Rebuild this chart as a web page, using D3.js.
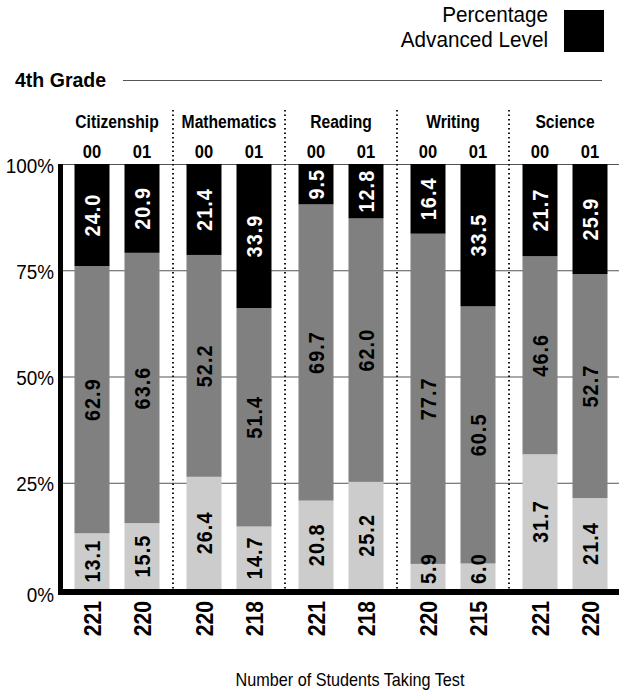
<!DOCTYPE html>
<html><head><meta charset="utf-8">
<script src="https://cdn.jsdelivr.net/npm/d3@7"></script>
<style>
html,body{margin:0;padding:0;background:#fff;}
svg{display:block;}
</style></head>
<body>
<svg id="chart" width="619" height="692"></svg>
<script>
const subjects = ["Citizenship","Mathematics","Reading","Writing","Science"];
const years = ["00","01"];
// order: subject-major, year-minor
const advanced   = [24.0, 20.9, 21.4, 33.9, 9.5, 12.8, 16.4, 33.5, 21.7, 25.9];
const proficient = [62.9, 63.6, 52.2, 51.4, 69.7, 62.0, 77.7, 60.5, 46.6, 52.7];
const below      = [13.1, 15.5, 26.4, 14.7, 20.8, 25.2, 5.9, 6.0, 31.7, 21.4];
const counts     = [221, 220, 220, 218, 221, 218, 220, 215, 221, 220];
const yTicks = [0, 25, 50, 75, 100];
const title = "4th Grade";
const legendLines = ["Percentage","Advanced Level"];
const xTitle = "Number of Students Taking Test";

const FONT = '"Liberation Sans", Arial, Helvetica, sans-serif';
const svg = d3.select("#chart");

const rows = [];
subjects.forEach((s,i)=>years.forEach((y,j)=>{
  const k = i*2+j;
  rows.push({subject:s, year:y, below:below[k], proficient:proficient[k], advanced:advanced[k], n:counts[k]});
}));

const keys = ["below","proficient","advanced"];
const fills = {below:"#cccccc", proficient:"#808080", advanced:"#000000"};
const textFill = {below:"#000", proficient:"#000", advanced:"#fff"};
const stack = d3.stack().keys(keys)(rows);

const x0 = d3.scaleBand().domain(subjects).range([61, 621]).padding(0);
const x1 = d3.scaleBand().domain(years).range([6, 106]).padding(0);
const y = d3.scaleLinear().domain([0,100]).range([589,164]);
const barW = 35;
const cx = d => x0(d.subject) + x1(d.year) + x1.bandwidth()/2;

// gridlines
svg.append("g").selectAll("line").data(yTicks.filter(t=>t>0)).join("line")
  .attr("x1", 63).attr("x2", 619)
  .attr("y1", d=>y(d)+0.5).attr("y2", d=>y(d)+0.5)
  .attr("stroke", "#555").attr("stroke-width", 1);

// separators (dotted)
svg.append("g").selectAll("line").data(subjects.slice(1)).join("line")
  .attr("x1", d=>x0(d)).attr("x2", d=>x0(d))
  .attr("y1", 110).attr("y2", 589)
  .attr("stroke", "#000").attr("stroke-width", 1.8)
  .attr("stroke-dasharray", "1.5,3");

// bars
const layer = svg.append("g").selectAll("g").data(stack).join("g")
  .attr("fill", d=>fills[d.key]);
layer.selectAll("rect").data(d=>d).join("rect")
  .attr("x", d=>cx(d.data)-barW/2)
  .attr("width", barW)
  .attr("y", d=>y(d[1]))
  .attr("height", d=>y(d[0])-y(d[1]));

// value labels (condensed bold, rotated)
const VS = 0.9;
stack.forEach(s=>{
  svg.append("g").selectAll("text").data(s).join("text")
    .attr("text-anchor","middle").attr("dy","0.36em")
    .attr("font-family", FONT).attr("font-weight","bold").attr("font-size",22)
    .attr("letter-spacing", 1.2)
    .attr("fill", textFill[s.key])
    .text(d=>d.data[s.key].toFixed(1))
    .each(function(d){
      const len = this.getComputedTextLength()*VS;
      let c = (y(d[0])+y(d[1]))/2;
      c = Math.min(c, y(0) - len/2 - 5);
      c = Math.max(c, y(100) + len/2 + 2);
      d3.select(this).attr("transform", `translate(${cx(d.data)},${c}) rotate(-90) scale(${VS},1)`);
    });
});

// axes lines
svg.append("rect").attr("x",58).attr("y",164).attr("width",5).attr("height",431).attr("fill","#000");
svg.append("rect").attr("x",58).attr("y",589).attr("width",561).attr("height",6).attr("fill","#000");

// y tick labels
svg.append("g").selectAll("text").data(yTicks).join("text")
  .attr("transform", d=>`translate(54,${y(d)+(d===0?5:1)}) scale(0.9,1)`)
  .attr("dy","0.36em")
  .attr("text-anchor","end")
  .attr("font-family", FONT).attr("font-size",21)
  .text(d=>d+"%");

// subject headers
svg.append("g").selectAll("text").data(subjects).join("text")
  .attr("transform", d=>`translate(${x0(d)+x0.bandwidth()/2},128) scale(0.87,1)`)
  .attr("text-anchor","middle")
  .attr("font-family", FONT).attr("font-weight","bold").attr("font-size",18)
  .text(d=>d);

// year headers
svg.append("g").selectAll("text").data(rows).join("text")
  .attr("transform", d=>`translate(${cx(d)},158) scale(0.92,1)`)
  .attr("text-anchor","middle")
  .attr("font-family", FONT).attr("font-weight","bold").attr("font-size",18)
  .text(d=>d.year);

// counts
svg.append("g").selectAll("text").data(rows).join("text")
  .attr("transform", d=>`translate(${cx(d)},601) rotate(-90) scale(0.88,1)`)
  .attr("text-anchor","end").attr("dy","0.36em")
  .attr("font-family", FONT).attr("font-weight","bold").attr("font-size",24)
  .text(d=>d.n);

// x title
svg.append("text").attr("transform","translate(350,686) scale(0.9,1)").attr("text-anchor","middle")
  .attr("font-family", FONT).attr("font-size",18).text(xTitle);

// grade title
svg.append("text").attr("transform","translate(15,87) scale(0.93,1)")
  .attr("font-family", FONT).attr("font-weight","bold").attr("font-size",21).text(title);
svg.append("line").attr("x1",123).attr("x2",602).attr("y1",80.5).attr("y2",80.5)
  .attr("stroke","#555").attr("stroke-width",1);

// legend
svg.append("g").selectAll("text").data(legendLines).join("text")
  .attr("transform",(d,i)=>`translate(548,${22+i*25}) scale(0.92,1)`).attr("text-anchor","end")
  .attr("font-family", FONT).attr("font-size",22.5).text(d=>d);
svg.append("rect").attr("x",564).attr("y",10).attr("width",40).attr("height",42).attr("fill",fills.advanced);
</script>
</body></html>
